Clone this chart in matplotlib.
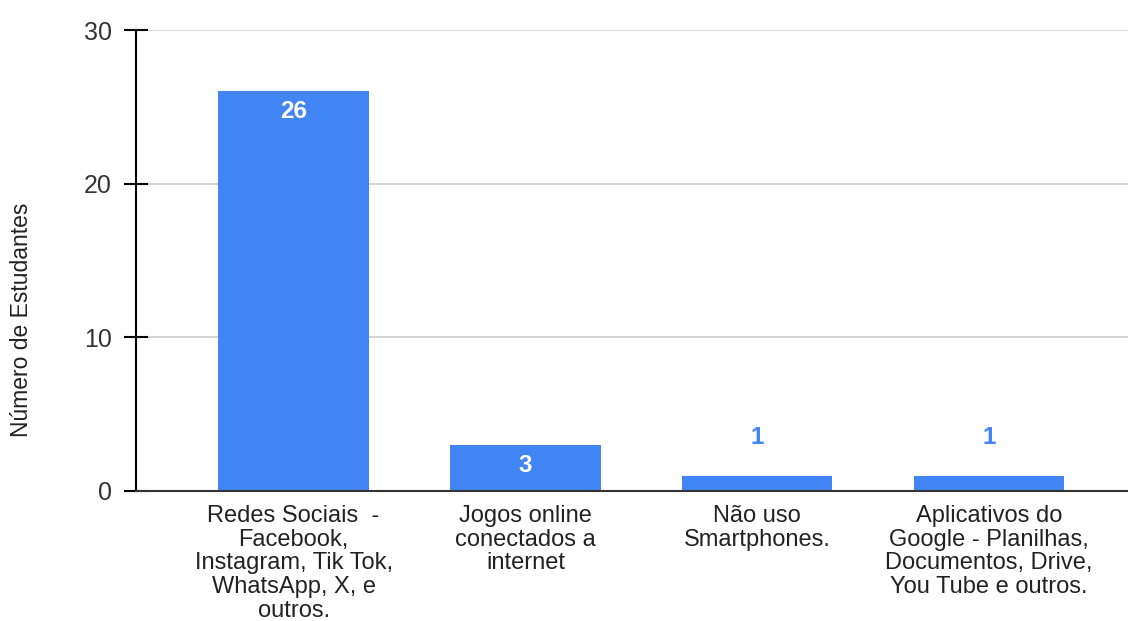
import matplotlib.pyplot as plt

# dados do gráfico
categorias = [
    'Redes Sociais  -\nFacebook,\nInstagram, Tik Tok,\nWhatsApp, X, e\noutros.',
    'Jogos online\nconectados a\ninternet',
    'Não uso\nSmartphones.',
    'Aplicativos do\nGoogle - Planilhas,\nDocumentos, Drive,\nYou Tube e outros.',
]
estudantes = [26, 3, 1, 1]

azul = '#4285F4'
plt.rcParams['font.family'] = ['Liberation Sans', 'DejaVu Sans']

fig = plt.figure(figsize=(11.28, 6.21), dpi=100)
ax = fig.add_axes([136 / 1128, 1 - 491 / 621, 1 - 136 / 1128, (491 - 30) / 621])

x = range(len(categorias))
bars = ax.bar(x, estudantes, width=0.65, color=azul, zorder=3)

# rótulos de valor: dentro da barra se couber, senão acima
for xi, v in zip(x, estudantes):
    if v >= 3:
        ax.annotate(str(v), (xi, v), xytext=(0, -14.5), textcoords='offset points',
                    ha='center', va='center', color='white', fontsize=17.5, fontweight='bold')
    else:
        ax.annotate(str(v), (xi, v), xytext=(0, 27.5), textcoords='offset points',
                    ha='center', va='center', color=azul, fontsize=17.5, fontweight='bold')

ax.set_ylim(0, 30)
ax.set_xlim(-0.68, 3.6)
ax.set_yticks([0, 10, 20, 30])
ax.set_xticks(list(x))
ax.set_xticklabels(categorias, fontsize=17, color='#222222', linespacing=1.1)
ax.tick_params(axis='x', length=0, pad=10)
ax.tick_params(axis='y', direction='inout', length=17, width=1.5, labelsize=18,
               labelcolor='#333333', pad=9)
ax.grid(axis='y', color='#cccccc', linewidth=1.2, zorder=0)

for s in ['top', 'right']:
    ax.spines[s].set_visible(False)
ax.spines['left'].set_color('black')
ax.spines['left'].set_linewidth(1.5)
ax.spines['left'].set_zorder(4)
ax.spines['bottom'].set_color('#333333')
ax.spines['bottom'].set_linewidth(1.5)
ax.spines['bottom'].set_zorder(4)

fig.text(22 / 1128, 1 - 320 / 621, 'Número de Estudantes', rotation=90,
         ha='center', va='center', fontsize=16.5, color='#222222')

fig.savefig('out.png', dpi=100)
